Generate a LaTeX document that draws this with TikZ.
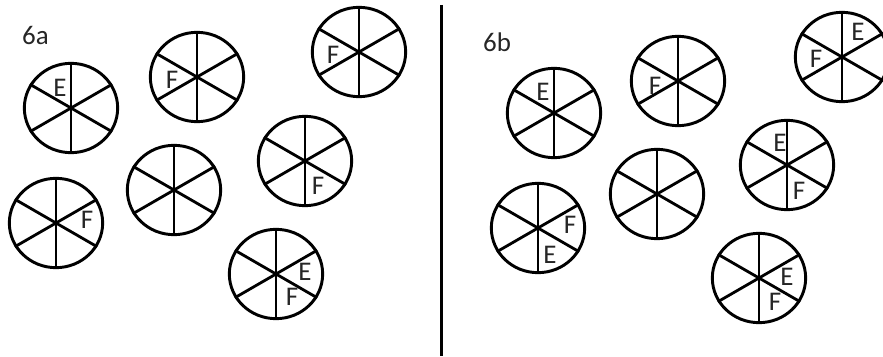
\documentclass[tikz,border=0pt]{standalone}
\usepackage{fontspec}
\setmainfont{Carlito}
\usetikzlibrary{shapes.geometric,calc}

\begin{document}
\begin{tikzpicture}[x=0.03cm,y=0.03cm,
  wheel/.style={draw=black,ellipse,line width=2.5pt,minimum width=2.8cm,minimum height=2.68cm,inner sep=0pt},
  spoke/.style={line width=2.4pt,draw=black},
  tag/.style={inner sep=0pt,font=\fontsize{23}{27}\selectfont,text=black!85},
  divider/.style={line width=3.4pt,draw=black}
]
\useasboundingbox (0,0) rectangle (883,356);

% panel 6a
\node[tag] (tagA) at (35.5,320.5) {6a};
\node[wheel] (a1) at (71,248) {};
\node[wheel] (a2) at (197,279) {};
\node[wheel] (a3) at (359,304) {};
\node[wheel] (a4) at (305,195) {};
\node[wheel] (a5) at (56,133) {};
\node[wheel] (a6) at (174,166) {};
\node[wheel] (a7) at (276,82) {};

% panel 6b
\node[tag] (tagB) at (497,314) {6b};
\node[wheel] (b1) at (554,243) {};
\node[wheel] (b2) at (678,275) {};
\node[wheel] (b3) at (842,299) {};
\node[wheel] (b4) at (787,191) {};
\node[wheel] (b5) at (657,162) {};
\node[wheel] (b6) at (538,128) {};
\node[wheel] (b7) at (759,78) {};

% six sectors in each wheel
\foreach \w in {a1,a2,a3,a4,a5,a6,a7,b1,b2,b3,b4,b5,b6,b7} {
  \draw[spoke] (\w.90) -- (\w.270);
  \draw[spoke] (\w.30) -- (\w.210);
  \draw[spoke] (\w.150) -- (\w.330);
}

% sector letters
\node[tag] (a1e) at ($(a1)+(-11,20)$) {E};
\node[tag] (a2f) at ($(a2)+(-25,-3)$) {F};
\node[tag] (a3f) at ($(a3)+(-26,-3)$) {F};
\node[tag] (a4f) at ($(a4)+(13,-25)$) {F};
\node[tag] (a5f) at ($(a5)+(31,3)$) {F};
\node[tag] (a7e) at ($(a7)+(29,2)$) {E};
\node[tag] (a7f) at ($(a7)+(16,-23)$) {F};

\node[tag] (b1e) at ($(b1)+(-11,21)$) {E};
\node[tag] (b2f) at ($(b2)+(-23,-5)$) {F};
\node[tag] (b3e) at ($(b3)+(16,25)$) {E};
\node[tag] (b3f) at ($(b3)+(-26,-2)$) {F};
\node[tag] (b4e) at ($(b4)+(-7,22)$) {E};
\node[tag] (b4f) at ($(b4)+(12,-26)$) {F};
\node[tag] (b6f) at ($(b6)+(32,3)$) {F};
\node[tag] (b6e) at ($(b6)+(12,-27)$) {E};
\node[tag] (b7e) at ($(b7)+(28,1)$) {E};
\node[tag] (b7f) at ($(b7)+(16,-24)$) {F};

% divider
\coordinate (topD) at (441.5,351);
\coordinate (botD) at (441.5,0);
\draw[divider] (topD) -- (botD);
\end{tikzpicture}
\end{document}
